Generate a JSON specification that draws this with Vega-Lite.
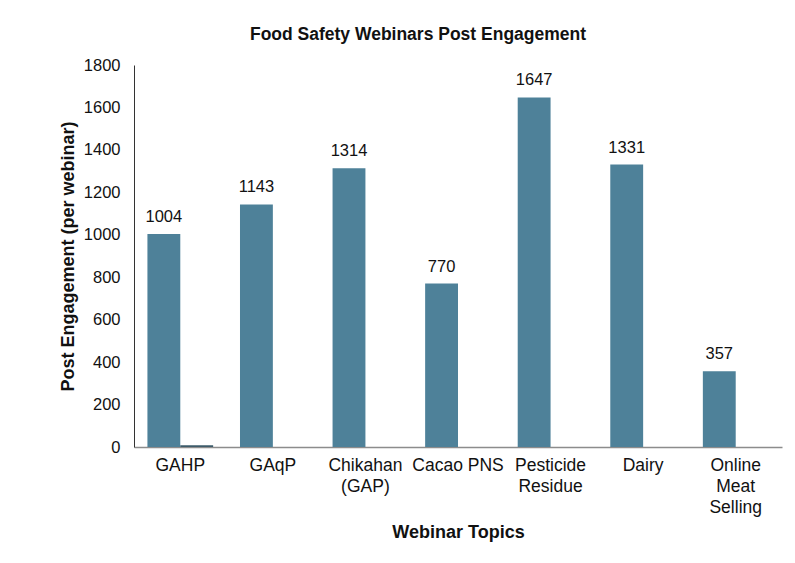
{
  "$schema": "https://vega.github.io/schema/vega-lite/v6.json",
  "autosize": {"type": "none"},
  "padding": {"left": 134, "top": 65, "right": 13, "bottom": 116},
  "width": 648,
  "height": 382,
  "background": "white",
  "title": {
    "text": "Food Safety Webinars Post Engagement",
    "font": "Liberation Sans",
    "fontSize": 17.5,
    "fontWeight": "bold",
    "color": "#111111",
    "anchor": "middle",
    "dx": -40,
    "offset": 14
  },
  "data": {
    "values": [
      {"topic": "GAHP", "series": "A", "value": 1004},
      {"topic": "GAHP", "series": "B", "value": 8},
      {"topic": "GAqP", "series": "A", "value": 1143},
      {"topic": "Chikahan (GAP)", "series": "A", "value": 1314},
      {"topic": "Cacao PNS", "series": "A", "value": 770},
      {"topic": "Pesticide Residue", "series": "A", "value": 1647},
      {"topic": "Dairy", "series": "A", "value": 1331},
      {"topic": "Online Meat Selling", "series": "A", "value": 357}
    ]
  },
  "encoding": {
    "x": {
      "field": "topic",
      "type": "nominal",
      "sort": null,
      "scale": {"paddingInner": 0.29, "paddingOuter": 0.145},
      "axis": {
        "title": "Webinar Topics",
        "titleFont": "Liberation Sans",
        "titleFontSize": 18,
        "titleFontWeight": "bold",
        "titleColor": "#111111",
        "titlePadding": 8,
        "labelFont": "Liberation Sans",
        "labelFontSize": 17.5,
        "labelColor": "#111111",
        "labelAngle": 0,
        "labelPadding": 9,
        "labelLineHeight": 21,
        "labelExpr": "datum.value == 'Chikahan (GAP)' ? ['Chikahan', '(GAP)'] : datum.value == 'Pesticide Residue' ? ['Pesticide', 'Residue'] : datum.value == 'Online Meat Selling' ? ['Online', 'Meat', 'Selling'] : datum.label",
        "ticks": false,
        "domainColor": "#8c8c8c",
        "domainWidth": 1.5,
        "grid": false
      }
    },
    "xOffset": {"field": "series", "type": "nominal", "scale": {"domain": ["A", "B"]}}
  },
  "layer": [
    {
      "mark": {"type": "bar"},
      "encoding": {
        "y": {
          "field": "value",
          "type": "quantitative",
          "scale": {"domain": [0, 1800], "nice": false},
          "axis": {
            "title": "Post Engagement (per webinar)",
            "titleFont": "Liberation Sans",
            "titleFontSize": 18,
            "titleFontWeight": "bold",
            "titleColor": "#111111",
            "titlePadding": 6,
            "labelFont": "Liberation Sans",
            "labelFontSize": 16.5,
            "labelColor": "#111111",
            "labelPadding": 14,
            "format": "d",
            "values": [0, 200, 400, 600, 800, 1000, 1200, 1400, 1600, 1800],
            "ticks": false,
            "grid": false,
            "domainColor": "#333333",
            "domainWidth": 1
          }
        },
        "color": {
          "field": "series",
          "type": "nominal",
          "scale": {"domain": ["A", "B"], "range": ["#4e8199", "#3d5b6a"]},
          "legend": null
        }
      }
    },
    {
      "transform": [{"filter": "datum.series == 'A'"}],
      "mark": {
        "type": "text",
        "font": "Liberation Sans",
        "fontSize": 16.5,
        "color": "#111111",
        "baseline": "bottom",
        "dy": -9
      },
      "encoding": {
        "y": {"field": "value", "type": "quantitative"},
        "text": {"field": "value", "type": "quantitative", "format": "d"}
      }
    }
  ],
  "config": {"view": {"stroke": null}}
}
